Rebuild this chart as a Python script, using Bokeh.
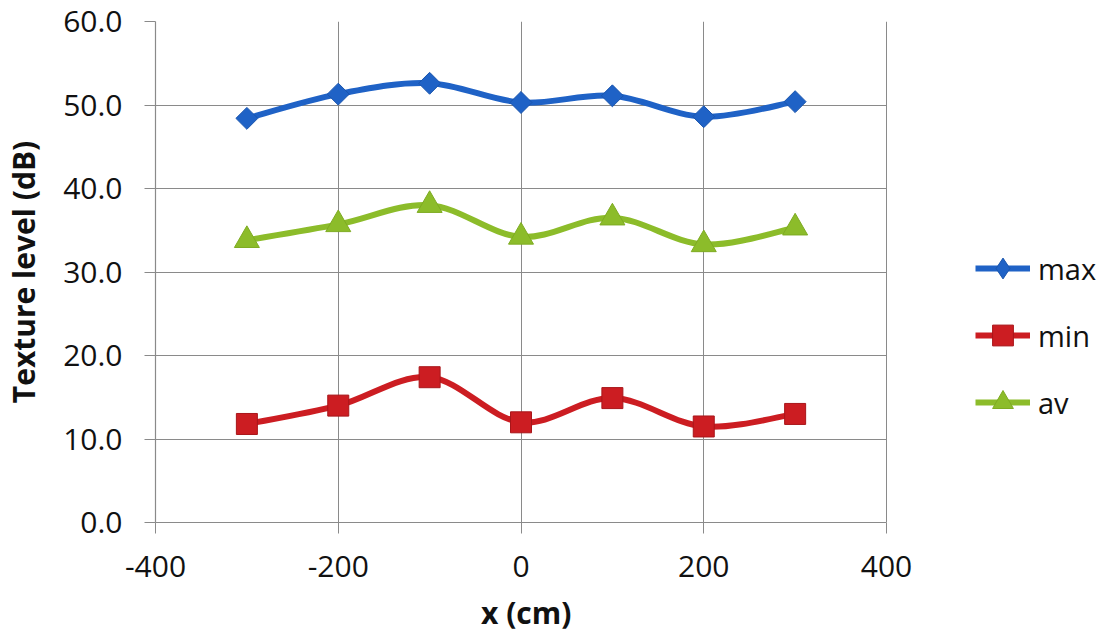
from bokeh.plotting import figure
from bokeh.models import (Range1d, FixedTicker, PrintfTickFormatter, Legend, LegendItem,
                          ColumnDataSource, Title)
from bokeh.embed import file_html
from bokeh.resources import INLINE
import numpy as np

# ---- data ----
x_cm = [-300, -200, -100, 0, 100, 200, 300]
max_db = [48.4, 51.3, 52.6, 50.3, 51.1, 48.6, 50.4]
min_db = [11.8, 14.0, 17.4, 12.0, 14.9, 11.5, 13.0]
av_db = [33.8, 35.7, 38.0, 34.2, 36.5, 33.3, 35.3]
x_ticks = [-400, -200, 0, 200, 400]
y_ticks = [0, 10, 20, 30, 40, 50, 60]

FONT = "Open Sans"
GRID = "#8a8a8a"
BLUE = "#1f62c6"
RED = "#cc1d22"
GREEN = "#8cbc2a"

# layout (pixels): plot area from 155 to 886 horizontally; the frame is widened
# to the page's right edge so that the legend can sit inside it.
W, H = 1117, 644
LEFT, PLOT_RIGHT, TOP, BOTTOM = 155, 886, 21, 122
X0, X1 = x_ticks[0], x_ticks[-1]
X_END = X0 + (X1 - X0) * (W - LEFT) / (PLOT_RIGHT - LEFT)


def smooth_segments(xs, ys):
    """Bezier segments through the data points (Excel-like smoothed line)."""
    P = np.column_stack([np.asarray(xs, float), np.asarray(ys, float)])
    n = len(P)
    d = dict(x0=[], y0=[], x1=[], y1=[], cx0=[], cy0=[], cx1=[], cy1=[])
    for i in range(n - 1):
        p0 = P[i - 1] if i > 0 else P[i]
        p1 = P[i]
        p2 = P[i + 1]
        p3 = P[i + 2] if i + 2 < n else P[i + 1]
        c1 = p1 + (p2 - p0) / 6.0
        c2 = p2 - (p3 - p1) / 6.0
        d["x0"].append(p1[0]); d["y0"].append(p1[1])
        d["x1"].append(p2[0]); d["y1"].append(p2[1])
        d["cx0"].append(c1[0]); d["cy0"].append(c1[1])
        d["cx1"].append(c2[0]); d["cy1"].append(c2[1])
    return ColumnDataSource(d)


p = figure(width=W, height=H, output_backend="svg", toolbar_location=None,
           x_range=Range1d(X0, X_END), y_range=Range1d(0, 60),
           min_border_left=LEFT, min_border_right=0, min_border_top=TOP,
           min_border_bottom=BOTTOM)
p.outline_line_color = None
p.background_fill_color = "white"
p.border_fill_color = "white"

for ax in (p.xaxis[0], p.yaxis[0]):
    ax.axis_line_color = GRID
    ax.axis_line_width = 1.2
    ax.major_tick_line_color = GRID
    ax.major_tick_in = 0
    ax.major_tick_out = 11
    ax.minor_tick_line_color = None
    ax.major_label_text_font = FONT
    ax.major_label_text_font_size = "30px"
    ax.major_label_text_color = "#111111"
    ax.axis_label_text_font = FONT
    ax.axis_label_text_font_size = "30px"
    ax.axis_label_text_font_style = "bold"
    ax.axis_label_text_color = "#111111"

p.xaxis[0].bounds = (X0, X1)
p.xaxis[0].ticker = FixedTicker(ticks=x_ticks)
p.yaxis[0].ticker = FixedTicker(ticks=y_ticks)
p.xaxis[0].formatter = PrintfTickFormatter(format="%d")
p.yaxis[0].formatter = PrintfTickFormatter(format="%.1f")
p.yaxis[0].axis_label = "Texture level (dB)"
p.xaxis[0].major_label_standoff = 22
p.yaxis[0].major_label_standoff = 22
p.yaxis[0].axis_label_standoff = 16

# x-axis title, centred under the plot area (not the widened frame)
TITLE_W = 80  # approximate offset correction for the rendered title width
plot_mid = LEFT + (PLOT_RIGHT - LEFT) / 2
xt = Title(text="x (cm)", align="left", offset=plot_mid - LEFT - TITLE_W / 2,
           text_font=FONT, text_font_size="30px", text_font_style="bold",
           text_color="#111111", standoff=20)
p.add_layout(xt, "below")

p.xgrid[0].ticker = FixedTicker(ticks=x_ticks)
p.ygrid[0].ticker = FixedTicker(ticks=y_ticks)
p.ygrid[0].cross_bounds = (X0, X1)
for g in (p.xgrid[0], p.ygrid[0]):
    g.grid_line_color = GRID
    g.grid_line_width = 1

LW = 6

# curves
c_max = p.bezier(source=smooth_segments(x_cm, max_db), x0="x0", y0="y0", x1="x1", y1="y1",
                 cx0="cx0", cy0="cy0", cx1="cx1", cy1="cy1", line_color=BLUE, line_width=LW)
c_min = p.bezier(source=smooth_segments(x_cm, min_db), x0="x0", y0="y0", x1="x1", y1="y1",
                 cx0="cx0", cy0="cy0", cx1="cx1", cy1="cy1", line_color=RED, line_width=LW)
c_av = p.bezier(source=smooth_segments(x_cm, av_db), x0="x0", y0="y0", x1="x1", y1="y1",
                cx0="cx0", cy0="cy0", cx1="cx1", cy1="cy1", line_color=GREEN, line_width=LW)

# markers ("diamond" glyph sits under the rotated square and supplies the legend glyph)
d_max = p.scatter(x_cm, max_db, marker="diamond", size=18,
                  fill_color=BLUE, line_color="#1a55ad", line_width=1)
m_max = p.scatter(x_cm, max_db, marker="square", size=15.5, angle=np.pi / 4,
                  fill_color=BLUE, line_color="#1a55ad", line_width=1)
m_min = p.scatter(x_cm, min_db, marker="square", size=21,
                  fill_color=RED, line_color="#a8161a", line_width=1)
m_av = p.scatter(x_cm, av_db, marker="triangle", size=25,
                 fill_color=GREEN, line_color="#7eab22", line_width=1)

legend = Legend(items=[
    LegendItem(label="max", renderers=[c_max, d_max], index=0),
    LegendItem(label="min", renderers=[c_min, m_min], index=0),
    LegendItem(label="av", renderers=[c_av, m_av], index=0),
], location=(975 - LEFT, H - BOTTOM - 428))
legend.padding = 0
legend.margin = 0
legend.spacing = 15
legend.glyph_width = 55
legend.glyph_height = 52
legend.label_height = 52
legend.label_standoff = 8
legend.label_text_font = FONT
legend.label_text_font_size = "29px"
legend.label_text_color = "#111111"
legend.border_line_color = None
legend.background_fill_alpha = 0
p.add_layout(legend)

open("out.html", "w").write(file_html(p, INLINE))
